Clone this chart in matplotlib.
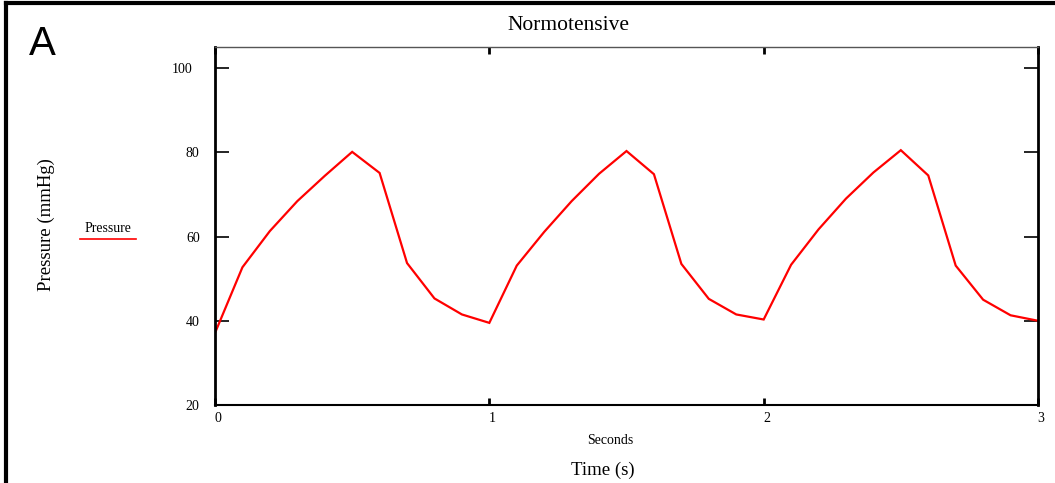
import matplotlib
matplotlib.use("Agg")
import matplotlib.pyplot as plt
from matplotlib.lines import Line2D
from matplotlib.transforms import ScaledTranslation

time_s = [0.0, 0.1, 0.2, 0.3, 0.4, 0.5, 0.6, 0.7, 0.8, 0.9, 1.0,
          1.1, 1.2, 1.3, 1.4, 1.5, 1.6, 1.7, 1.8, 1.9, 2.0,
          2.1, 2.2, 2.3, 2.4, 2.5, 2.6, 2.7, 2.8, 2.9, 3.0]
pressure = [37.1, 52.7, 61.3, 68.4, 74.4, 80.1, 75.1, 53.7, 45.3, 41.5, 39.5,
            53.1, 61.1, 68.4, 74.9, 80.3, 74.8, 53.5, 45.2, 41.5, 40.3,
            53.3, 61.7, 69.0, 75.2, 80.5, 74.5, 53.1, 45.0, 41.3, 40.0]
y_ticks = [20, 40, 60, 80, 100]
x_ticks = [0, 1, 2, 3]

serif = "Liberation Serif"
W, H = 1055, 483
fig = plt.figure(figsize=(W / 100, H / 100), dpi=100)
ax = fig.add_axes([215 / W, 1 - 405 / H, (1038 - 215) / W, (405 - 47) / H])

ax.plot(time_s, pressure, color="#ff0000", lw=1.6, solid_joinstyle="miter")
ax.set_xlim(0, 3)
ax.set_ylim(20, 105)
ax.set_yticks(y_ticks)
ax.set_xticks(x_ticks)
ax.set_yticklabels([str(v) for v in y_ticks], fontfamily=serif, fontsize=10)
ax.set_xticklabels([str(v) for v in x_ticks], fontfamily=serif, fontsize=10)
ax.tick_params(axis="y", direction="in", length=10, width=1.2, right=True, pad=11)
ax.tick_params(axis="x", direction="in", length=5, width=2, top=True, pad=5)

# small offsets of tick labels as in the reference
for lbl in ax.get_xticklabels():
    lbl.set_transform(lbl.get_transform() + ScaledTranslation(3 / 100, 0, fig.dpi_scale_trans))
for lbl, v in zip(ax.get_yticklabels(), y_ticks):
    if v >= 100:
        lbl.set_transform(lbl.get_transform() + ScaledTranslation(-7 / 100, 0, fig.dpi_scale_trans))

ax.spines["left"].set_linewidth(2)
ax.spines["right"].set_linewidth(2)
ax.spines["bottom"].set_linewidth(1.5)
ax.spines["top"].set_linewidth(1)
ax.spines["top"].set_color("#555555")

fig.text(568 / W, 1 - 25 / H, "Normotensive", fontfamily=serif, fontsize=15.5,
         ha="center", va="center")
fig.text(610 / W, 1 - 441 / H, "Seconds", fontfamily=serif, fontsize=10,
         ha="center", va="center")
fig.text(603 / W, 1 - 470 / H, "Time (s)", fontfamily=serif, fontsize=13.5,
         ha="center", va="center")
fig.text(46 / W, 1 - 225 / H, "Pressure (mmHg)", fontfamily=serif, fontsize=13.5,
         rotation=90, ha="center", va="center")
fig.text(42 / W, 1 - 44 / H, "A", fontfamily="Liberation Sans", fontsize=29,
         ha="center", va="center")

# legend
fig.text(108 / W, 1 - 228 / H, "Pressure", fontfamily=serif, fontsize=10,
         ha="center", va="center")
fig.add_artist(Line2D([80 / W, 136 / W], [1 - 239 / H, 1 - 239 / H],
                      transform=fig.transFigure, color="#ff0000", lw=1.2))

# outer frame (top and left)
fig.add_artist(Line2D([6 / W, 1], [1 - 3 / H, 1 - 3 / H],
                      transform=fig.transFigure, color="black", lw=3))
fig.add_artist(Line2D([6 / W, 6 / W], [0, 1 - 3 / H],
                      transform=fig.transFigure, color="black", lw=3))

fig.savefig("out.png", dpi=100)
